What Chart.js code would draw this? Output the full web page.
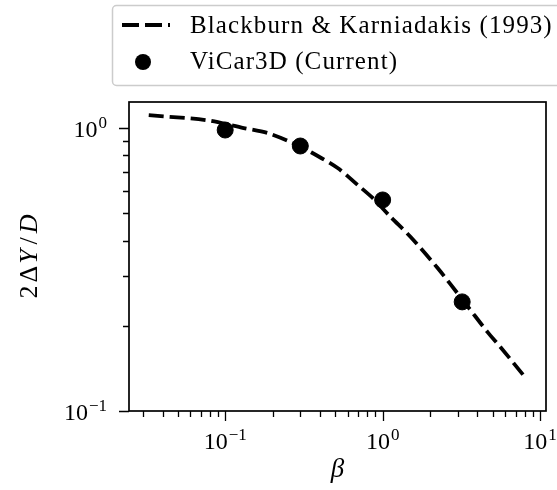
<!DOCTYPE html>
<html>
<head>
<meta charset="utf-8">
<script src="https://cdn.jsdelivr.net/npm/chart.js@4"></script>
<style>
  html, body { margin: 0; padding: 0; background: #fff; }
</style>
</head>
<body>
<canvas id="c" width="557" height="490"></canvas>
<script>
// Blackburn & Karniadakis (1993) curve
var refBeta = [0.0327, 0.0752, 0.131, 0.186, 0.261, 0.349, 0.518, 0.694, 0.864, 1.124, 1.506, 2.234, 3.22, 4.64, 5.61, 8.09];
var refDY   = [1.11,   1.067,  1.0,   0.96,  0.892, 0.823, 0.722, 0.629, 0.566, 0.485, 0.412, 0.320, 0.247, 0.190, 0.168, 0.131];
// ViCar3D (Current) points
var vicarBeta = [0.1, 0.3, 1.0, 3.2];
var vicarDY   = [0.984, 0.864, 0.557, 0.243];

var xMajor = [0.1, 1, 10];
var xMajorExp = ['\u22121', '0', '1'];
var yMajor = [0.1, 1];
var yMajorExp = ['\u22121', '0'];
var legendLabels = ['Blackburn & Karniadakis (1993)', 'ViCar3D (Current)'];

var FONT = '"Liberation Serif", "Times New Roman", serif';

function powLabel(c, exp, x, y, align) {
  c.font = '24px ' + FONT;
  var w1 = c.measureText('10').width;
  c.font = '17px ' + FONT;
  var w2 = c.measureText(exp).width;
  var total = w1 + 1 + w2;
  var x0 = align === 'center' ? x - total / 2 : x - total;
  c.textAlign = 'left';
  c.textBaseline = 'alphabetic';
  c.font = '24px ' + FONT;
  c.fillText('10', x0, y);
  c.font = '17px ' + FONT;
  c.fillText(exp, x0 + w1 + 1, y - 9);
}

var axesPlugin = {
  id: 'axes',
  afterDraw: function (chart) {
    var c = chart.ctx, a = chart.chartArea;
    var xs = chart.scales.x, ys = chart.scales.y;
    c.save();
    c.fillStyle = '#000';
    c.strokeStyle = '#000';

    // frame
    c.lineWidth = 1.7;
    c.strokeRect(a.left, a.top, a.right - a.left, a.bottom - a.top);

    // ticks
    c.lineWidth = 1.3;
    var i, k, v, p;
    c.beginPath();
    for (i = 0; i < xMajor.length; i++) {
      p = Math.round(xs.getPixelForValue(xMajor[i])) + 0.5;
      c.moveTo(p, a.bottom); c.lineTo(p, a.bottom + 10);
    }
    [0.01, 0.1, 1].forEach(function (d) {
      for (k = 2; k <= 9; k++) {
        v = k * d;
        if (v < xs.min || v > xs.max) continue;
        p = Math.round(xs.getPixelForValue(v)) + 0.5;
        c.moveTo(p, a.bottom); c.lineTo(p, a.bottom + 6);
      }
    });
    for (i = 0; i < yMajor.length; i++) {
      p = Math.round(ys.getPixelForValue(yMajor[i])) + 0.5;
      c.moveTo(a.left, p); c.lineTo(a.left - 10, p);
    }
    [0.1, 1].forEach(function (d) {
      for (k = 2; k <= 9; k++) {
        v = k * d;
        if (v < ys.min || v > ys.max) continue;
        p = Math.round(ys.getPixelForValue(v)) + 0.5;
        c.moveTo(a.left, p); c.lineTo(a.left - 6, p);
      }
    });
    c.stroke();

    // tick labels
    for (i = 0; i < xMajor.length; i++) {
      powLabel(c, xMajorExp[i], xs.getPixelForValue(xMajor[i]), a.bottom + 38, 'center');
    }
    for (i = 0; i < yMajor.length; i++) {
      powLabel(c, yMajorExp[i], a.left - 22, ys.getPixelForValue(yMajor[i]) + 9, 'right');
    }

    // x title
    c.font = 'italic 27px ' + FONT;
    c.textAlign = 'center';
    c.textBaseline = 'middle';
    c.fillText('\u03b2', (a.left + a.right) / 2, 470);

    // y title: 2ΔY/D
    c.save();
    c.translate(37, (a.top + a.bottom) / 2);
    c.rotate(-Math.PI / 2);
    var parts = [['2', ''], ['\u0394', ''], ['Y', 'italic '], ['/', ''], ['D', 'italic ']];
    var gaps = [3, 2, 5, 4];
    var tot = 0, ws = [];
    parts.forEach(function (pt) {
      c.font = pt[1] + '26px ' + FONT;
      var w = c.measureText(pt[0]).width;
      ws.push(w); tot += w;
    });
    gaps.forEach(function (g) { tot += g; });
    var cx = -tot / 2;
    c.textAlign = 'left';
    c.textBaseline = 'alphabetic';
    parts.forEach(function (pt, j) {
      c.font = pt[1] + '26px ' + FONT;
      c.fillText(pt[0], cx, 0);
      cx += ws[j] + (gaps[j] || 0);
    });
    c.restore();

    // legend
    c.fillStyle = 'rgba(255,255,255,0.85)';
    c.strokeStyle = '#cccccc';
    c.lineWidth = 1.5;
    c.beginPath();
    c.roundRect(112.5, 5.5, 470, 80, 4);
    c.fill();
    c.stroke();

    c.strokeStyle = '#000';
    c.lineWidth = 4;
    c.setLineDash([17, 6]);
    c.beginPath();
    c.moveTo(122, 25); c.lineTo(170, 25);
    c.stroke();
    c.setLineDash([]);

    c.fillStyle = '#000';
    c.beginPath();
    c.arc(143, 62, 8, 0, Math.PI * 2);
    c.fill();

    c.font = '25px ' + FONT;
    c.letterSpacing = '1.1px';
    c.textAlign = 'left';
    c.textBaseline = 'alphabetic';
    c.fillText(legendLabels[0], 190, 33);
    c.fillText(legendLabels[1], 190, 69);
    c.restore();
  }
};

var ctx = document.getElementById('c').getContext('2d');
var chart = new Chart(ctx, {
  type: 'line',
  data: {
    datasets: [
      {
        label: legendLabels[0],
        data: refBeta.map(function (b, i) { return { x: b, y: refDY[i] }; }),
        borderColor: '#000',
        borderWidth: 3.8,
        borderDash: [15, 6],
        pointRadius: 0,
        tension: 0.3,
        fill: false,
        order: 1
      },
      {
        type: 'scatter',
        label: legendLabels[1],
        data: vicarBeta.map(function (b, i) { return { x: b, y: vicarDY[i] }; }),
        backgroundColor: '#000',
        borderColor: '#000',
        pointRadius: 8,
        pointHoverRadius: 8,
        showLine: false,
        order: 0
      }
    ]
  },
  options: {
    responsive: false,
    animation: false,
    devicePixelRatio: 1,
    layout: { padding: { left: 129, right: 11, top: 102, bottom: 79 } },
    scales: {
      x: { type: 'logarithmic', min: 0.0245, max: 10.9, display: false },
      y: { type: 'logarithmic', min: 0.1, max: 1.236, display: false }
    },
    plugins: { legend: { display: false }, tooltip: { enabled: false } }
  },
  plugins: [axesPlugin]
});
</script>
</body>
</html>
